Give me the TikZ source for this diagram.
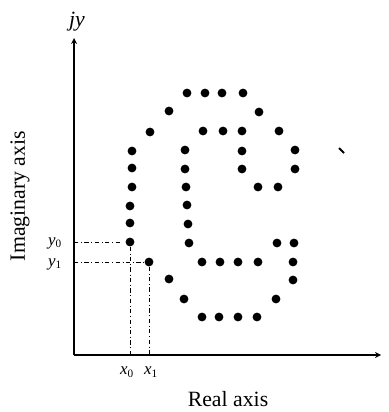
\documentclass[tikz,border=0pt]{standalone}
\usepackage{fontspec}
\setmainfont{Liberation Serif}

\begin{document}
\begin{tikzpicture}[
    x=0.025cm, y=-0.025cm,
    axis/.style={->, >=stealth, line width=0.9pt},
    dot/.style={circle, fill=black, inner sep=0pt, minimum size=0.22cm},
    guide/.style={dash dot, line width=0.5pt},
    title/.style={font=\fontsize{15.5}{18}\selectfont, inner sep=0pt},
    coordlabel/.style={font=\fontsize{12}{14}\selectfont, inner sep=1pt}
]
\useasboundingbox (0,0) rectangle (388,412);

% axes
\coordinate (origin) at (74,355);
\coordinate (ytop) at (74,38);
\coordinate (xend) at (381,355);
\draw[axis] (origin) -- (ytop);
\draw[axis] (origin) -- (xend);

\node[title] (jy) at (77,22) {\itshape jy};
\node[title] (real) at (228,399) {Real axis};
\node[title, rotate=90] (imag) at (20,196) {Imaginary axis};

% the two marked points
\node[dot] (p0) at (130,242) {};
\node[dot] (p1) at (149,262) {};

% the other points of the figure
\foreach \px/\py [count=\i] in {187/93, 205/93, 222/93, 243/93,
    169/111, 259/112,
    150/132, 203/131, 223/131, 242/131, 279/131,
    132/151, 185/150, 242/151, 295/150,
    132/168, 185/169, 242/169, 295/169,
    132/187, 186/187, 258/187, 278/187,
    130/206, 187/205,
    130/223, 188/224,
    189/243, 277/243, 294/243,
    202/262, 220/262, 238/262, 258/262, 293/262,
    169/279, 293/280,
    184/299, 276/299,
    202/317, 219/317, 238/317, 257/317}
  \node[dot] (d\i) at (\px,\py) {};

% projections onto the axes
\draw[guide] (origin |- p0) -- ([xshift=-0.1cm]p0.west);
\draw[guide] (origin |- p1) -- (p1.west);
\draw[guide] (p0.south) -- (p0 |- origin);
\draw[guide] (p1.south) -- (p1 |- origin);

\node[coordlabel] (y0) at (55,243) {{\itshape y}\textsubscript{0}};
\node[coordlabel] (y1) at (55,264) {{\itshape y}\textsubscript{1}};
\node[coordlabel] (x0) at (127,372) {{\itshape x}\textsubscript{0}};
\node[coordlabel] (x1) at (151,372) {{\itshape x}\textsubscript{1}};

% stray stroke at the right
\coordinate (s0) at (339,148);
\coordinate (s1) at (344,153);
\draw[line width=1.3pt] (s0) -- (s1);
\end{tikzpicture}
\end{document}
